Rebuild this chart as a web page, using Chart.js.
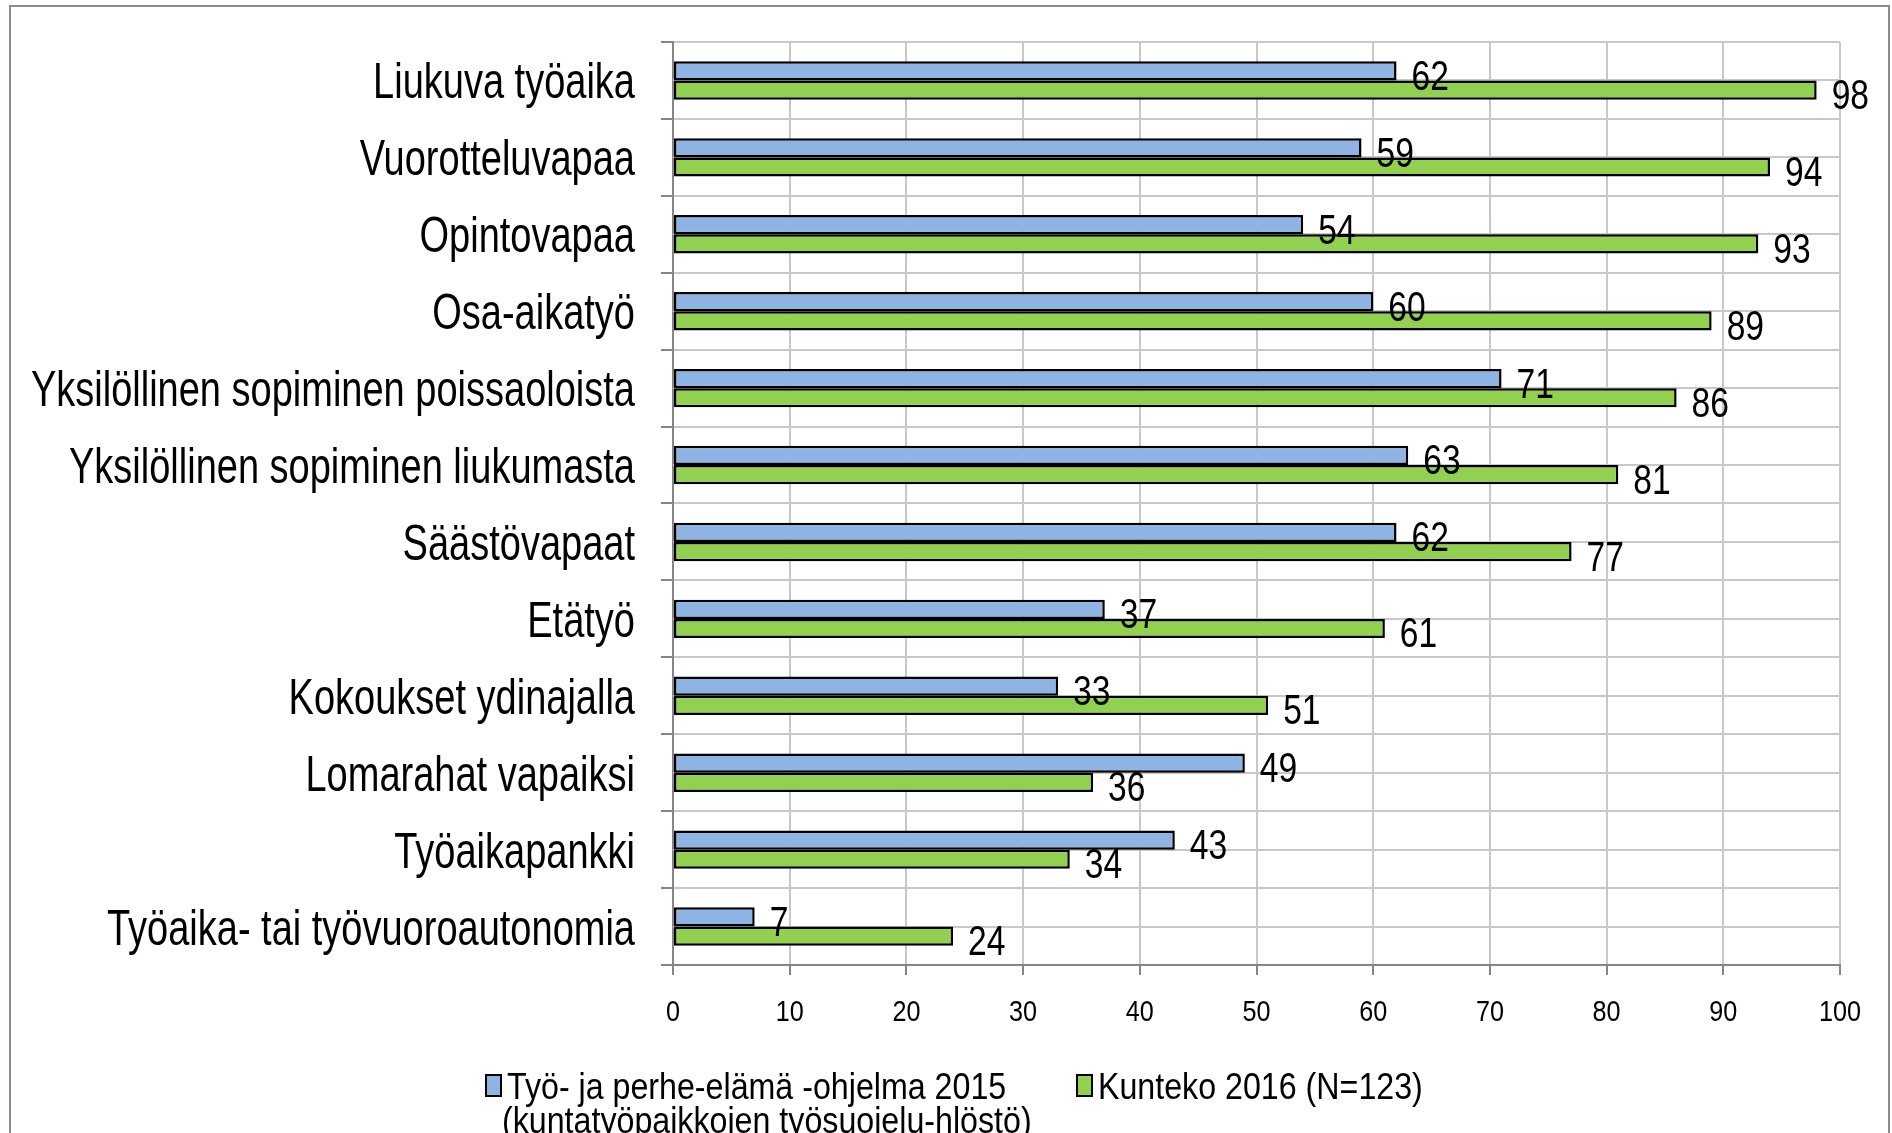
<!DOCTYPE html>
<html>
<head>
<meta charset="utf-8">
<script src="https://cdn.jsdelivr.net/npm/chart.js@4.4.1/dist/chart.umd.min.js"></script>
<style>
  html, body { margin: 0; padding: 0; background: #fff; }
  canvas { display: block; }
</style>
</head>
<body>
<canvas id="chart" width="1892" height="1133"></canvas>
<script>
// values
const categories = [
  'Liukuva työaika',
  'Vuorotteluvapaa',
  'Opintovapaa',
  'Osa-aikatyö',
  'Yksilöllinen sopiminen poissaoloista',
  'Yksilöllinen sopiminen liukumasta',
  'Säästövapaat',
  'Etätyö',
  'Kokoukset ydinajalla',
  'Lomarahat vapaiksi',
  'Työaikapankki',
  'Työaika- tai työvuoroautonomia'
];
const values2015 = [62, 59, 54, 60, 71, 63, 62, 37, 33, 49, 43, 7];
const values2016 = [98, 94, 93, 89, 86, 81, 77, 61, 51, 36, 34, 24];
const seriesNames = [
  ['Työ- ja perhe-elämä -ohjelma 2015', '(kuntatyöpaikkojen työsuojelu-hlöstö)'],
  ['Kunteko 2016 (N=123)']
];
const xTicks = [0, 10, 20, 30, 40, 50, 60, 70, 80, 90, 100];

const FONT = "'Liberation Sans', Arial, sans-serif";
const gridGrey = '#c8c8c8';
const axisGrey = '#868686';

// the original uses a condensed face, so squeeze the text sideways
function narrowText(c, text, x, y, size, sx, align) {
  c.save();
  c.font = size + 'px ' + FONT;
  c.textAlign = align;
  c.textBaseline = 'alphabetic';
  c.translate(x, y);
  c.scale(sx, 1);
  c.fillText(text, 0, 0);
  c.restore();
}

// white page + grey frame like the exported chart object
const frame = {
  id: 'frame',
  beforeDraw(chart) {
    const c = chart.ctx;
    c.save();
    c.fillStyle = '#fff';
    c.fillRect(0, 0, chart.width, chart.height);
    c.strokeStyle = '#8c8c8c';
    c.lineWidth = 2;
    c.strokeRect(10, 6, chart.width - 13, chart.height + 20);
    c.restore();
  }
};

// extra horizontal grid line through the middle of every category
const midLines = {
  id: 'midLines',
  beforeDatasetsDraw(chart) {
    const c = chart.ctx, y = chart.scales.y, area = chart.chartArea;
    c.save();
    c.strokeStyle = gridGrey;
    c.lineWidth = 2;
    categories.forEach((_, i) => {
      const py = Math.round(y.getPixelForValue(i));
      c.beginPath();
      c.moveTo(area.left, py);
      c.lineTo(area.right, py);
      c.stroke();
    });
    c.restore();
  }
};

// axis texts (drawn here so they can be condensed like the original)
const axisLabels = {
  id: 'axisLabels',
  afterDraw(chart) {
    const c = chart.ctx, y = chart.scales.y, x = chart.scales.x;
    c.fillStyle = '#000';
    chart.data.labels.forEach((lab, i) => {
      narrowText(c, lab, y.right - 38, y.getPixelForValue(i) + 18, 50, 0.76, 'right');
    });
    xTicks.forEach(v => {
      narrowText(c, String(v), x.getPixelForValue(v), x.top + 56, 30, 0.84, 'center');
    });
  }
};

// value labels at the end of each bar
const valueLabels = {
  id: 'valueLabels',
  afterDatasetsDraw(chart) {
    const c = chart.ctx;
    c.fillStyle = '#000';
    chart.data.datasets.forEach((ds, di) => {
      chart.getDatasetMeta(di).data.forEach((bar, i) => {
        narrowText(c, String(ds.data[i]), bar.x + 15, bar.y + 19, 42, 0.8, 'left');
      });
    });
  }
};

// legend below the axis, first series has a two-line label
const legendBelow = {
  id: 'legendBelow',
  afterDraw(chart) {
    const c = chart.ctx;
    const starts = [486, 1077];
    const y0 = 1086, lineH = 34;
    chart.data.datasets.forEach((ds, di) => {
      const x = starts[di];
      c.save();
      c.fillStyle = ds.backgroundColor;
      c.fillRect(x, y0 - 11, 15, 21);
      c.strokeStyle = '#000';
      c.lineWidth = 2;
      c.strokeRect(x, y0 - 11, 15, 21);
      c.restore();
      c.fillStyle = '#000';
      seriesNames[di].forEach((t, li) => {
        narrowText(c, t, x + (li === 0 ? 21 : 16), y0 + 13 + li * lineH, 37, 0.87, 'left');
      });
    });
  }
};

new Chart(document.getElementById('chart'), {
  type: 'bar',
  data: {
    labels: categories,
    datasets: [
      { label: seriesNames[0].join(' '), data: values2015, backgroundColor: '#8db4e2',
        borderColor: '#000', borderWidth: 2.5, borderSkipped: false },
      { label: seriesNames[1].join(' '), data: values2016, backgroundColor: '#92d050',
        borderColor: '#000', borderWidth: 2.5, borderSkipped: false }
    ]
  },
  options: {
    indexAxis: 'y',
    responsive: false,
    animation: false,
    layout: { padding: { top: 42, right: 52, bottom: 88, left: 0 } },
    datasets: { bar: { categoryPercentage: 0.5, barPercentage: 1 } },
    plugins: { legend: { display: false }, tooltip: { enabled: false } },
    scales: {
      x: {
        min: 0, max: 100,
        afterBuildTicks(s) { s.ticks = xTicks.map(v => ({ value: v })); },
        ticks: { display: false },
        grid: { color: gridGrey, lineWidth: 2, tickColor: axisGrey, tickLength: 10 },
        border: { color: axisGrey, width: 2 },
        afterFit(s) { s.height = 80; }
      },
      y: {
        ticks: { display: false },
        grid: { color: gridGrey, lineWidth: 2, tickColor: axisGrey, tickLength: 12 },
        border: { color: axisGrey, width: 2 },
        afterFit(s) { s.width = 673; }
      }
    }
  },
  plugins: [frame, midLines, valueLabels, axisLabels, legendBelow]
});
</script>
</body>
</html>
